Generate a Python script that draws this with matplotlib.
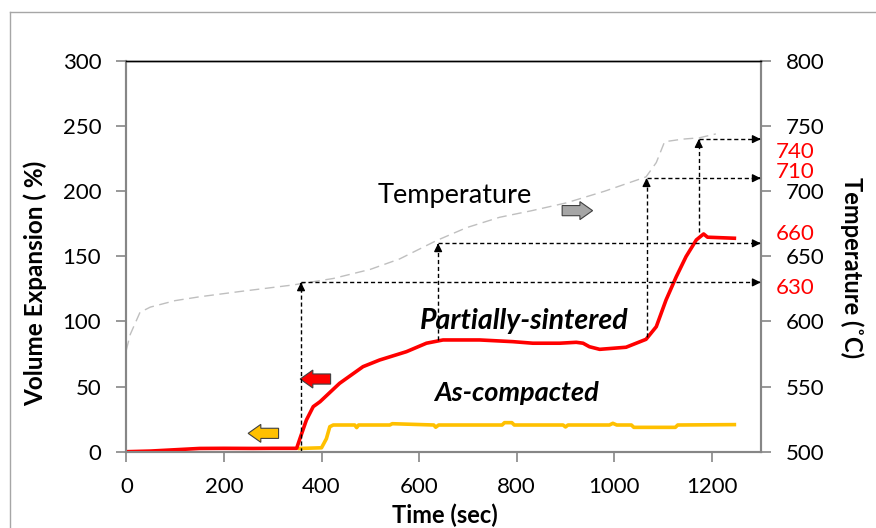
import numpy as np
import matplotlib.pyplot as plt
from matplotlib.patches import FancyArrow
from matplotlib.lines import Line2D

plt.rcParams['font.family'] = ['Lato', 'DejaVu Sans']

# Partially-sintered expansion (%)
ps_time = [0, 50, 100, 150, 200, 260, 300, 349, 356, 369, 383, 397, 437, 485, 519,
           574, 615, 649, 724, 792, 833, 888, 922, 936, 949, 970, 1024, 1065, 1086,
           1106, 1127, 1147, 1168, 1183, 1191, 1246]
ps_exp = [0, 0.5, 1.5, 2.5, 2.6, 2.5, 2.6, 2.6, 10.3, 24.3, 34.6, 38.4, 52.5, 65.3, 70.4,
          76.8, 83.3, 85.8, 85.8, 84.5, 83.3, 83.3, 84.0, 83.3, 80.6, 78.6, 80.2, 86.3, 96,
          116.5, 134.4, 149.8, 162.6, 167.2, 164.7, 163.9]

# As-compacted expansion (%)
ac_time = [355, 400, 410, 417, 424, 468, 472, 476, 540, 545, 630, 634, 640, 770, 775,
           790, 795, 895, 900, 905, 990, 997, 1005, 1035, 1040, 1125, 1130, 1246]
ac_exp = [2.5, 3.0, 10, 19.2, 20.5, 20.5, 18.5, 20.5, 20.5, 21.5, 20.5, 18.8, 20.5, 20.5, 22.3,
          22.3, 20.5, 20.5, 19.0, 20.5, 20.5, 21.8, 20.5, 20.5, 18.7, 18.7, 20.5, 20.8]

# Temperature (C)
temp_time = [0, 8, 28, 49, 100, 151, 233, 341, 424, 500, 560, 635, 697, 765, 830, 901,
             980, 1065, 1086, 1103, 1140, 1174, 1208]
temp_c = [578, 590, 607, 611, 616, 619, 623, 628, 633, 640, 648, 662, 672, 680, 685, 691,
          700, 711, 722, 738, 740, 741, 744]

# marker arrows: time, expansion start, temperature reached
mark_time = [358, 639, 1066, 1173]
mark_exp = [0, 86, 88, 169]
mark_temp = [630, 660, 710, 740]
mark_label_y = [626, 667, 715, 730]

fig = plt.figure(figsize=(8.76, 5.28), dpi=100)
ax = fig.add_axes([0.1442, 0.1445, 0.7242, 0.7400])
ax2 = ax.twinx()

ax.plot(ps_time, ps_exp, color='#ff0000', lw=2.6, zorder=3)
ax.plot(ac_time, ac_exp, color='#ffc000', lw=2.6, zorder=2)
ax2.plot(temp_time, temp_c, color='#bfbfbf', lw=1.0, ls=(0, (7, 4)))

ax.set_xlim(0, 1300)
ax.set_ylim(0, 300)
ax2.set_ylim(500, 800)
ax.set_xticks(np.arange(0, 1201, 200))
ax.set_yticks(np.arange(0, 301, 50))
ax2.set_yticks(np.arange(500, 801, 50))

for a in (ax, ax2):
    for s in ('left', 'right', 'bottom'):
        a.spines[s].set_color('#868686')
        a.spines[s].set_linewidth(1.5)
    a.spines['top'].set_color('black')
    a.spines['top'].set_linewidth(1.0)
ax.tick_params(axis='both', colors='#868686', labelcolor='black', labelsize=16,
               length=7, width=1.2, pad=11)
ax2.tick_params(axis='y', colors='#868686', labelcolor='black', labelsize=16,
                length=7, width=1.2, pad=11)

# axis titles
fig.text(0.508, 0.024, 'Time (sec)', fontsize=17, fontweight='bold',
         ha='center', va='center')
fig.text(0.040, 0.464, 'Volume Expansion ( %)', rotation=90, fontsize=17.5,
         fontweight='bold', ha='center', va='center')
fig.text(0.9725, 0.494, 'Temperature (\u02daC)', rotation=270, fontsize=17,
         fontweight='bold', ha='center', va='center')

# dashed marker arrows
dash = (0, (3, 2))
for t, e, T, ly in zip(mark_time, mark_exp, mark_temp, mark_label_y):
    ax2.plot([t, t], [e + 500, T], color='black', lw=1, ls=dash)
    ax2.plot([t, 1300], [T, T], color='black', lw=1, ls=dash, clip_on=False)
    ax2.annotate('', xy=(t, T), xytext=(t, T - 2),
                 arrowprops=dict(arrowstyle='-|>', color='black', lw=1, mutation_scale=12))
    ax2.annotate('', xy=(1300, T), xytext=(1295, T), annotation_clip=False,
                 arrowprops=dict(arrowstyle='-|>', color='black', lw=1, mutation_scale=12))
    ax2.text(1.024, ly, str(T), transform=ax2.get_yaxis_transform(), color='red',
             fontsize=16, ha='left', va='center', clip_on=False)

# labels
ax.text(673, 197, 'Temperature', fontsize=19.5, ha='center', va='center')
ax.text(815, 100, 'Partially-sintered', fontsize=20.5, fontweight='bold', style='italic',
        ha='center', va='center')
ax.text(799, 45, 'As-compacted', fontsize=19.5, fontweight='bold', style='italic',
        ha='center', va='center')

# block arrows (axes fraction)
def block_arrow(x_tail, y, dx, fc):
    ax.add_patch(FancyArrow(x_tail, y, dx, 0, width=0.026, head_width=0.046,
                            head_length=0.02, length_includes_head=True,
                            transform=ax.transAxes, fc=fc, ec='#404040', lw=0.8, zorder=4))

block_arrow(0.240, 0.047, -0.048, '#ffc000')
block_arrow(0.322, 0.186, -0.048, '#ff0000')
block_arrow(0.687, 0.617, 0.048, '#a6a6a6')

# outer chart frame
fig.add_artist(Line2D([0.0114, 0.0114], [0, 0.9767], color='#a6a6a6', lw=1))
fig.add_artist(Line2D([0.0114, 1.0], [0.9767, 0.9767], color='#a6a6a6', lw=1))

fig.savefig('out.png', dpi=100)
